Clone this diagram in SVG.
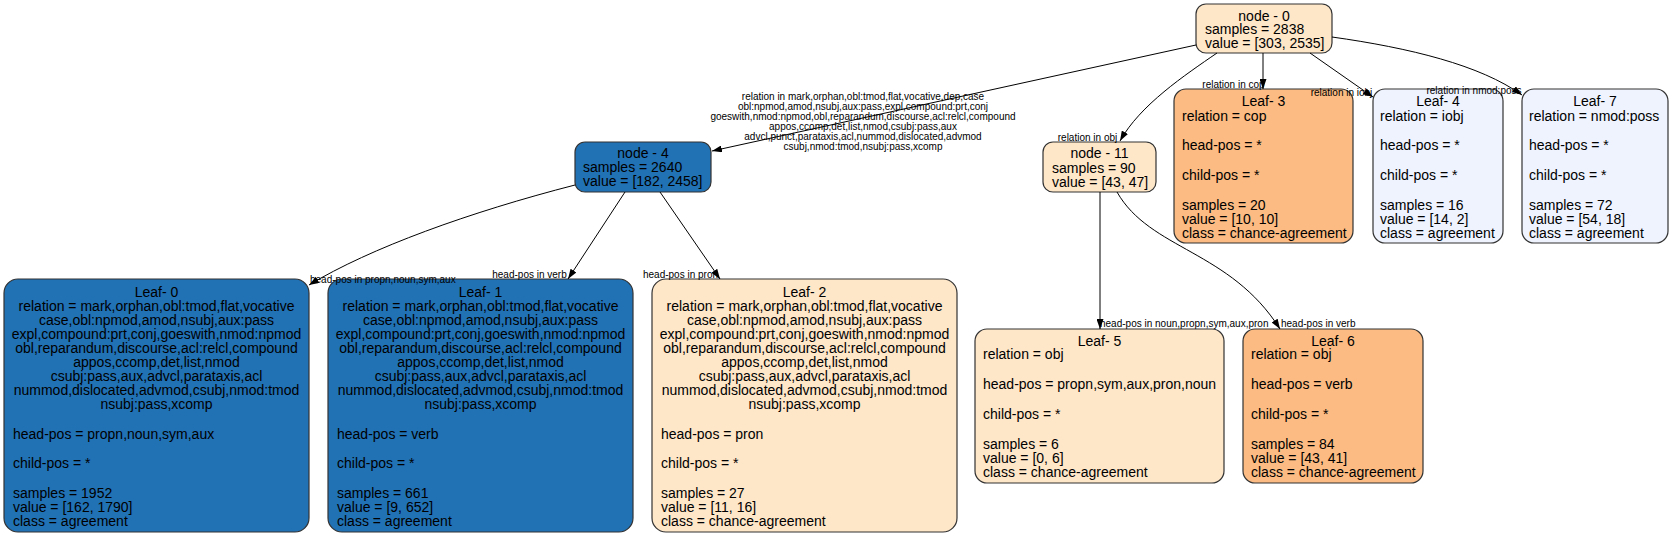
<svg xmlns="http://www.w3.org/2000/svg" width="1672" height="536" viewBox="0 0 1672 536">
<style>
  .box { stroke: #333333; stroke-width: 1.2; }
  .blue { fill: #2171b5; }
  .peach { fill: #fee6c8; }
  .orange { fill: #fbbb82; }
  .pale { fill: #eef3fe; }
  text { font-family: "Liberation Sans", Arial, Helvetica, sans-serif; fill: #000; }
  .t { font-size: 14px; }
  .c { text-anchor: middle; }
  .lbl { font-size: 10px; }
  .edge { fill: none; stroke: #000; stroke-width: 1; marker-end: url(#arr); }
</style>
<defs>
  <marker id="arr" viewBox="0 0 10 7" refX="10" refY="3.5" markerWidth="10" markerHeight="7" markerUnits="userSpaceOnUse" orient="auto">
    <path d="M0,0 L10,3.5 L0,7 Z" fill="#000"/>
  </marker>
</defs>
<rect width="1672" height="536" fill="#ffffff"/>

<g id="node0">
  <rect class="box peach" x="1196" y="4" width="136" height="49" rx="10"/>
  <text class="t c" x="1264" y="21">node - 0</text>
  <text class="t" x="1205" y="34">samples = 2838</text>
  <text class="t" x="1205" y="48">value = [303, 2535]</text>
</g>

<g id="node4">
  <rect class="box blue" x="575" y="142" width="136" height="50" rx="10"/>
  <text class="t c" x="643" y="158">node - 4</text>
  <text class="t" x="583" y="172">samples = 2640</text>
  <text class="t" x="583" y="186">value = [182, 2458]</text>
</g>

<g id="node11">
  <rect class="box peach" x="1043" y="142" width="113" height="50" rx="10"/>
  <text class="t c" x="1099.5" y="158">node - 11</text>
  <text class="t" x="1052" y="172.5">samples = 90</text>
  <text class="t" x="1052" y="186.5">value = [43, 47]</text>
</g>

<g id="leaf3">
  <rect class="box orange" x="1174" y="89" width="179" height="154" rx="12"/>
  <text class="t c" x="1263.5" y="106">Leaf- 3</text>
  <text class="t" x="1182" y="121">relation = cop</text>
  <text class="t" x="1182" y="150">head-pos = *</text>
  <text class="t" x="1182" y="180">child-pos = *</text>
  <text class="t" x="1182" y="210">samples = 20</text>
  <text class="t" x="1182" y="224">value = [10, 10]</text>
  <text class="t" x="1182" y="238">class = chance-agreement</text>
</g>

<g id="leaf4">
  <rect class="box pale" x="1373" y="89" width="130" height="154" rx="12"/>
  <text class="t c" x="1438" y="106">Leaf- 4</text>
  <text class="t" x="1380" y="121">relation = iobj</text>
  <text class="t" x="1380" y="150">head-pos = *</text>
  <text class="t" x="1380" y="180">child-pos = *</text>
  <text class="t" x="1380" y="210">samples = 16</text>
  <text class="t" x="1380" y="224">value = [14, 2]</text>
  <text class="t" x="1380" y="238">class = agreement</text>
</g>

<g id="leaf7">
  <rect class="box pale" x="1522" y="89" width="146" height="154" rx="12"/>
  <text class="t c" x="1595" y="106">Leaf- 7</text>
  <text class="t" x="1529" y="121">relation = nmod:poss</text>
  <text class="t" x="1529" y="150">head-pos = *</text>
  <text class="t" x="1529" y="180">child-pos = *</text>
  <text class="t" x="1529" y="210">samples = 72</text>
  <text class="t" x="1529" y="224">value = [54, 18]</text>
  <text class="t" x="1529" y="238">class = agreement</text>
</g>

<g id="leaf0">
  <rect class="box blue" x="4" y="279" width="305" height="253" rx="14"/>
  <text class="t c" x="156.5" y="297">Leaf- 0</text>
  <text class="t c" x="156.5" y="311">relation = mark,orphan,obl:tmod,flat,vocative</text>
  <text class="t c" x="156.5" y="325">case,obl:npmod,amod,nsubj,aux:pass</text>
  <text class="t c" x="156.5" y="339">expl,compound:prt,conj,goeswith,nmod:npmod</text>
  <text class="t c" x="156.5" y="353">obl,reparandum,discourse,acl:relcl,compound</text>
  <text class="t c" x="156.5" y="367">appos,ccomp,det,list,nmod</text>
  <text class="t c" x="156.5" y="380.5">csubj:pass,aux,advcl,parataxis,acl</text>
  <text class="t c" x="156.5" y="394.5">nummod,dislocated,advmod,csubj,nmod:tmod</text>
  <text class="t c" x="156.5" y="408.5">nsubj:pass,xcomp</text>
  <text class="t" x="13" y="439">head-pos = propn,noun,sym,aux</text>
  <text class="t" x="13" y="468">child-pos = *</text>
  <text class="t" x="13" y="498">samples = 1952</text>
  <text class="t" x="13" y="512">value = [162, 1790]</text>
  <text class="t" x="13" y="526">class = agreement</text>
</g>

<g id="leaf1">
  <rect class="box blue" x="328" y="279" width="305" height="253" rx="14"/>
  <text class="t c" x="480.5" y="297">Leaf- 1</text>
  <text class="t c" x="480.5" y="311">relation = mark,orphan,obl:tmod,flat,vocative</text>
  <text class="t c" x="480.5" y="325">case,obl:npmod,amod,nsubj,aux:pass</text>
  <text class="t c" x="480.5" y="339">expl,compound:prt,conj,goeswith,nmod:npmod</text>
  <text class="t c" x="480.5" y="353">obl,reparandum,discourse,acl:relcl,compound</text>
  <text class="t c" x="480.5" y="367">appos,ccomp,det,list,nmod</text>
  <text class="t c" x="480.5" y="380.5">csubj:pass,aux,advcl,parataxis,acl</text>
  <text class="t c" x="480.5" y="394.5">nummod,dislocated,advmod,csubj,nmod:tmod</text>
  <text class="t c" x="480.5" y="408.5">nsubj:pass,xcomp</text>
  <text class="t" x="337" y="439">head-pos = verb</text>
  <text class="t" x="337" y="468">child-pos = *</text>
  <text class="t" x="337" y="498">samples = 661</text>
  <text class="t" x="337" y="512">value = [9, 652]</text>
  <text class="t" x="337" y="526">class = agreement</text>
</g>

<g id="leaf2">
  <rect class="box peach" x="652" y="279" width="305" height="253" rx="14"/>
  <text class="t c" x="804.5" y="297">Leaf- 2</text>
  <text class="t c" x="804.5" y="311">relation = mark,orphan,obl:tmod,flat,vocative</text>
  <text class="t c" x="804.5" y="325">case,obl:npmod,amod,nsubj,aux:pass</text>
  <text class="t c" x="804.5" y="339">expl,compound:prt,conj,goeswith,nmod:npmod</text>
  <text class="t c" x="804.5" y="353">obl,reparandum,discourse,acl:relcl,compound</text>
  <text class="t c" x="804.5" y="367">appos,ccomp,det,list,nmod</text>
  <text class="t c" x="804.5" y="380.5">csubj:pass,aux,advcl,parataxis,acl</text>
  <text class="t c" x="804.5" y="394.5">nummod,dislocated,advmod,csubj,nmod:tmod</text>
  <text class="t c" x="804.5" y="408.5">nsubj:pass,xcomp</text>
  <text class="t" x="661" y="439">head-pos = pron</text>
  <text class="t" x="661" y="468">child-pos = *</text>
  <text class="t" x="661" y="498">samples = 27</text>
  <text class="t" x="661" y="512">value = [11, 16]</text>
  <text class="t" x="661" y="526">class = chance-agreement</text>
</g>

<g id="leaf5">
  <rect class="box peach" x="975" y="329" width="249" height="154" rx="12"/>
  <text class="t c" x="1099.5" y="346">Leaf- 5</text>
  <text class="t" x="983" y="359">relation = obj</text>
  <text class="t" x="983" y="389">head-pos = propn,sym,aux,pron,noun</text>
  <text class="t" x="983" y="419">child-pos = *</text>
  <text class="t" x="983" y="449">samples = 6</text>
  <text class="t" x="983" y="463">value = [0, 6]</text>
  <text class="t" x="983" y="477">class = chance-agreement</text>
</g>

<g id="leaf6">
  <rect class="box orange" x="1243" y="329" width="180" height="154" rx="12"/>
  <text class="t c" x="1333" y="346">Leaf- 6</text>
  <text class="t" x="1251" y="359">relation = obj</text>
  <text class="t" x="1251" y="389">head-pos = verb</text>
  <text class="t" x="1251" y="419">child-pos = *</text>
  <text class="t" x="1251" y="449">samples = 84</text>
  <text class="t" x="1251" y="463">value = [43, 41]</text>
  <text class="t" x="1251" y="477">class = chance-agreement</text>
</g>

<g id="connectors">
  <path class="edge" d="M1196,45 L712,151"/>
  <path class="edge" d="M1217,53 C1185,75 1140,105 1120,141"/>
  <path class="edge" d="M1263,53 L1263,89"/>
  <path class="edge" d="M1310,53 L1373,97"/>
  <path class="edge" d="M1332,37 C1410,48 1480,65 1522,95"/>
  <path class="edge" d="M575,185 C470,212 370,248 309,285"/>
  <path class="edge" d="M625,192 L568,279"/>
  <path class="edge" d="M660,192 L720,279"/>
  <path class="edge" d="M1100,192 L1100,329"/>
  <path class="edge" d="M1117,192 C1150,250 1230,250 1280,329"/>
  <g class="lbl">
    <text class="lbl c" x="863" y="99.5">relation in mark,orphan,obl:tmod,flat,vocative,dep,case</text>
    <text class="lbl c" x="863" y="109.5">obl:npmod,amod,nsubj,aux:pass,expl,compound:prt,conj</text>
    <text class="lbl c" x="863" y="119.5">goeswith,nmod:npmod,obl,reparandum,discourse,acl:relcl,compound</text>
    <text class="lbl c" x="863" y="129.5">appos,ccomp,det,list,nmod,csubj:pass,aux</text>
    <text class="lbl c" x="863" y="139.5">advcl,punct,parataxis,acl,nummod,dislocated,advmod</text>
    <text class="lbl c" x="863" y="149.5">csubj,nmod:tmod,nsubj:pass,xcomp</text>
    <text class="lbl c" x="1087.5" y="140.5">relation in obj</text>
    <text class="lbl c" x="1233.5" y="87.5">relation in cop</text>
    <text class="lbl c" x="1341.5" y="95.5">relation in iobj</text>
    <text class="lbl c" x="1474" y="93.5">relation in nmod:poss</text>
    <text class="lbl" x="310" y="282.5">head-pos in propn,noun,sym,aux</text>
    <text class="lbl c" x="529.5" y="277.5">head-pos in verb</text>
    <text class="lbl c" x="680.5" y="277.5">head-pos in pron</text>
    <text class="lbl" x="1100" y="326.5">head-pos in noun,propn,sym,aux,pron</text>
    <text class="lbl" x="1281" y="326.5">head-pos in verb</text>
  </g>
</g>
</svg>
